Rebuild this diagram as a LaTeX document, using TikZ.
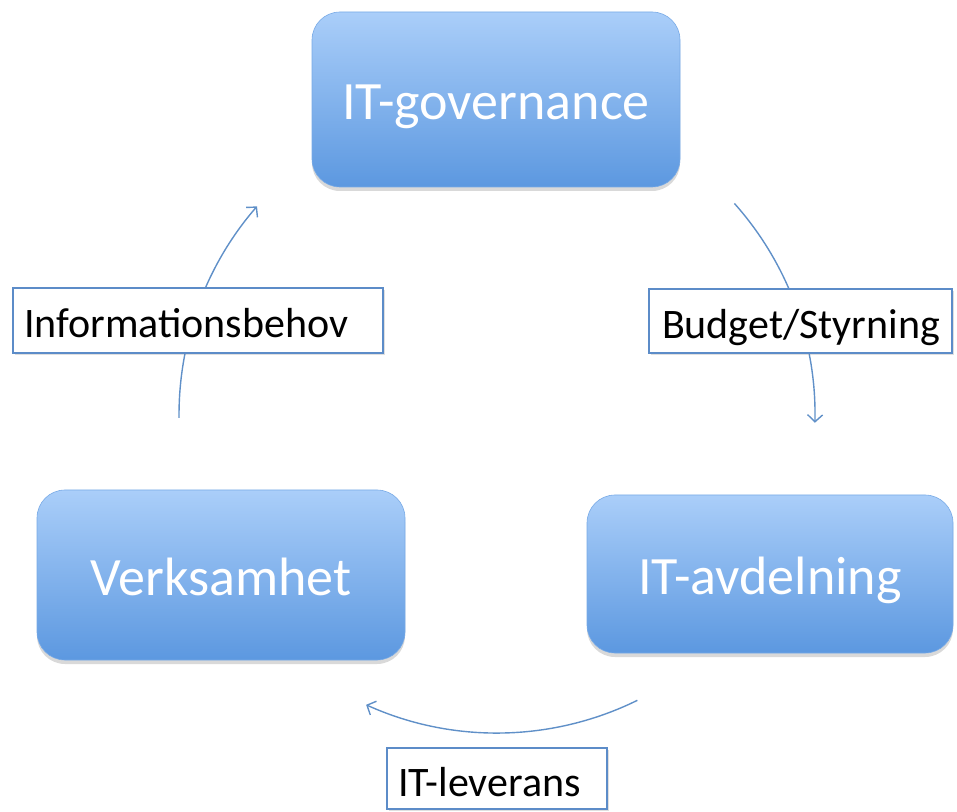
\documentclass[tikz,border=0pt]{standalone}
\usepackage{fontspec}
\setmainfont{Carlito}
\usetikzlibrary{arrows.meta,shadows}

\definecolor{boxtop}{RGB}{170,206,249}
\definecolor{boxbottom}{RGB}{92,152,224}
\definecolor{boxedge}{RGB}{120,170,230}
\definecolor{labeledge}{RGB}{92,140,200}
\definecolor{flowline}{RGB}{96,144,200}

\tikzset{
  unit/.style={rounded corners=28pt, top color=boxtop, bottom color=boxbottom,
    draw=boxedge, line width=0.6pt, text=white, font=\fontsize{54}{60}\selectfont,
    text height=41pt, text depth=0pt,
    drop shadow={opacity=0.3, shadow xshift=0pt, shadow yshift=-4pt}},
  tag/.style={draw=labeledge, line width=2pt, fill=white, text=black,
    font=\fontsize{42}{48}\selectfont, align=left, inner ysep=0pt,
    text height=35pt, text depth=0pt,
    drop shadow={opacity=0.25, shadow xshift=2pt, shadow yshift=-2pt}},
  flow/.style={draw=flowline, line width=1.4pt,
    -{Straight Barb[length=7pt,width=15pt,line width=1.4pt]}}
}

\begin{document}
\begin{tikzpicture}[x=1pt,y=1pt]
\useasboundingbox (0,0) rectangle (957,811);

% the three organisational units
\node[unit, minimum width=368pt, minimum height=175pt] (gov) at (496,711.5) {IT-governance};
\node[unit, minimum width=368pt, minimum height=170pt] (verk) at (221,236) {Verksamhet};
\node[unit, minimum width=366pt, minimum height=158pt] (avd) at (770,237) {IT-avdelning};

% circular flows around the common centre
\coordinate (hub) at (497,396);
\path (hub) ++(180.5:318) coordinate (infoFrom);
\path (hub) ++(41.7:318) coordinate (budgetFrom);
\path (hub) ++(-63.8:318) coordinate (levFrom);

\draw[flow] (infoFrom) arc[start angle=180.5, end angle=139, radius=318];
\draw[flow] (budgetFrom) arc[start angle=41.7, end angle=-1.4, radius=318];
\draw[flow] (levFrom) arc[start angle=-63.8, end angle=-114.3, radius=318];

% flow labels
\node[tag, text width=348pt, inner xsep=11pt, minimum height=65pt] (info) at (198,490.5) {Informationsbehov};
\node[tag, text width=277pt, inner xsep=13pt, minimum height=64pt] (budget) at (800.5,490) {Budget/Styrning};
\node[tag, text width=198pt, inner xsep=11pt, minimum height=61pt] (lev) at (497,32.5) {IT-leverans};
\end{tikzpicture}
\end{document}
